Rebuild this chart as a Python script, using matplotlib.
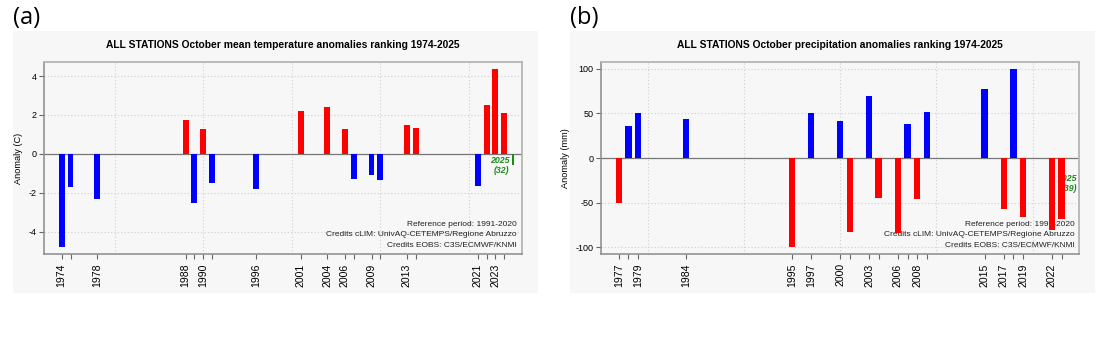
import numpy as np
import matplotlib
matplotlib.use("Agg")
import matplotlib.pyplot as plt
from matplotlib.patches import Rectangle

plt.rcParams['font.family'] = ['Liberation Sans', 'DejaVu Sans']

# October mean temperature anomalies (C), top/bottom ranked years
years_t = [1974, 1975, 1978, 1988, 1989, 1990, 1991, 1996, 2001, 2004,
           2006, 2007, 2009, 2010, 2013, 2014, 2021, 2022, 2023, 2024]
anom_t = [-4.8, -1.7, -2.3, 1.75, -2.55, 1.3, -1.5, -1.8, 2.22, 2.43,
          1.3, -1.28, -1.11, -1.37, 1.47, 1.33, -1.64, 2.53, 4.37, 2.1]
labels_t = [1974, 1978, 1988, 1990, 1996, 2001, 2004, 2006, 2009, 2013, 2021, 2023]
cur_t = -0.6
rank_t = 32

# October precipitation anomalies (mm)
years_p = [1977, 1978, 1979, 1984, 1995, 1997, 2000, 2001, 2003, 2004,
           2006, 2007, 2008, 2009, 2015, 2017, 2018, 2019, 2022, 2023]
anom_p = [-51, 36, 51, 44, -100, 50, 41, -83, 70, -45,
          -84, 38, -46, 52, 77, -57, 100, -66, -81, -68]
labels_p = [1977, 1979, 1984, 1995, 1997, 2000, 2003, 2006, 2008, 2015, 2017, 2019, 2022]
cur_p = -29
rank_p = 39

cur_year = 2025
credits = ["Reference period: 1991-2020",
           "Credits cLIM: UnivAQ-CETEMPS/Regione Abruzzo",
           "Credits EOBS: C3S/ECMWF/KNMI"]

fig = plt.figure(figsize=(11.13, 3.46), dpi=100)
fig.patch.set_facecolor('white')

# light grey card behind each panel
fig.patches.append(Rectangle((0.0114, 0.154), 0.472, 0.756, transform=fig.transFigure,
                             facecolor='#f7f7f7', edgecolor='none', zorder=-10))
fig.patches.append(Rectangle((0.5121, 0.154), 0.4717, 0.756, transform=fig.transFigure,
                             facecolor='#f7f7f7', edgecolor='none', zorder=-10))


def panel(rect, years, vals, labels, pos_col, neg_col, yticks, ylabel, title,
          cur, rank):
    ax = fig.add_axes(rect)
    ax.set_facecolor('#f7f7f7')
    years = np.array(years)
    vals = np.array(vals, dtype=float)

    # R-style 4% padding around the data range
    xr = years.max() - years.min()
    ax.set_xlim(years.min() - 0.04 * xr, years.max() + 0.04 * xr)
    yr = vals.max() - vals.min()
    ax.set_ylim(vals.min() - 0.04 * yr, vals.max() + 0.04 * yr)

    for g in (1980, 1990, 2000, 2010, 2020):
        ax.axvline(g, color='#cfcfcf', lw=0.8, ls=(0, (1, 2)), zorder=1)
    for t in yticks:
        if t != 0:
            ax.axhline(t, color='#cfcfcf', lw=0.8, ls=(0, (1, 2)), zorder=1)
    ax.axhline(0, color='#777777', lw=0.9, zorder=2)

    for i, line in enumerate(credits):
        ax.text(0.9895, 0.157 - i * 0.0555, line, transform=ax.transAxes,
                ha='right', va='center', fontsize=6, color='#222222', zorder=3)

    ax.text(cur_year - 0.4, cur, f"{cur_year}\n({rank})", ha='right', va='center',
            multialignment='right', fontsize=6.3, color='#1a8a1a',
            fontweight='bold', fontstyle='italic', linespacing=1.15, zorder=3)

    colors = [pos_col if v > 0 else neg_col for v in vals]
    ax.bar(years, vals, width=0.67, color=colors, edgecolor='none', zorder=4)
    ax.bar([cur_year], [cur], width=0.28, color='#1a8a1a', edgecolor='none', zorder=4)

    ax.set_xticks(years)
    ax.set_xticklabels([str(y) if y in labels else '' for y in years],
                       rotation=90, fontsize=7.6)
    ax.set_yticks(yticks)
    ax.set_yticklabels([str(t) for t in yticks], fontsize=6.5)
    ax.tick_params(axis='both', length=3.5, width=0.8, color='#666666', pad=2)
    ax.tick_params(axis='x', pad=3)

    for s in ('left', 'bottom'):
        ax.spines[s].set_color('#8a8a8a')
        ax.spines[s].set_linewidth(1.1)
    for s in ('top', 'right'):
        ax.spines[s].set_color('#b5b5b5')
        ax.spines[s].set_linewidth(1.3)

    ax.set_ylabel(ylabel, fontsize=6.6, labelpad=4)
    ax.set_title(title, fontsize=7.4, fontweight='bold', pad=10)
    return ax


ax1 = panel([0.0395, 0.265, 0.4295, 0.5567], years_t, anom_t, labels_t,
            'red', 'blue', [-4, -2, 0, 2, 4], 'Anomaly (C)',
            'ALL STATIONS October mean temperature anomalies ranking 1974-2025',
            cur_t, rank_t)
ax2 = panel([0.54, 0.265, 0.4297, 0.5567], years_p, anom_p, labels_p,
            'blue', 'red', [-100, -50, 0, 50, 100], 'Anomaly (mm)',
            'ALL STATIONS October precipitation anomalies ranking 1974-2025',
            cur_p, rank_p)

fig.text(0.0117, 0.948, '(a)', fontsize=17, family='Open Sans', va='center', ha='left')
fig.text(0.5121, 0.948, '(b)', fontsize=17, family='Open Sans', va='center', ha='left')

fig.savefig('out.png', dpi=100)
